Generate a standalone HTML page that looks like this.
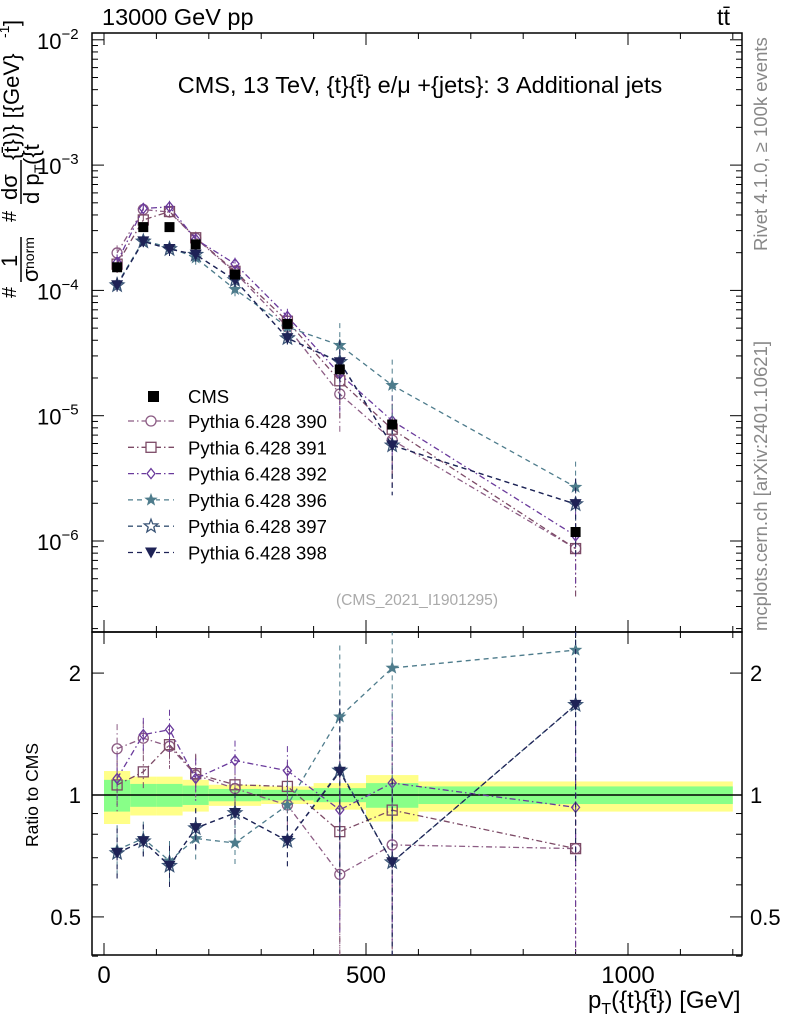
<!DOCTYPE html>
<html><head><meta charset="utf-8"><style>
body{margin:0;background:#fff;}
svg{font-family:"Liberation Sans",sans-serif;}
</style></head><body>
<svg id="c" width="786" height="1024" viewBox="0 0 786 1024" xmlns="http://www.w3.org/2000/svg"></svg>
<script>
const binCenters=[25,75,125,175,250,350,450,550,900];
const binEdges=[0,50,100,150,200,300,400,500,600,1200];
const cmsValues=[1.53e-4,3.2e-4,3.2e-4,2.33e-4,1.34e-4,5.4e-5,2.34e-5,8.5e-6,1.18e-6];
const bandYellowUp=[1.146,1.11,1.11,1.09,1.06,1.05,1.07,1.12,1.08];
const bandYellowDn=[0.848,0.89,0.89,0.91,0.94,0.95,0.92,0.86,0.91];
const bandGreenUp=[1.09,1.065,1.065,1.055,1.035,1.03,1.04,1.07,1.05];
const bandGreenDn=[0.91,0.935,0.935,0.945,0.965,0.97,0.96,0.93,0.95];
const s390=[1.99e-4,4.42e-4,4.22e-4,2.61e-4,1.39e-4,5.1e-5,1.49e-5,6.4e-6,8.7e-7];
const s391=[1.62e-4,3.65e-4,4.26e-4,2.63e-4,1.42e-4,5.67e-5,1.9e-5,7.8e-6,8.7e-7];
const s392=[1.68e-4,4.51e-4,4.64e-4,2.56e-4,1.63e-4,6.2e-5,2.15e-5,9.1e-6,1.1e-6];
const s396=[1.12e-4,2.5e-4,2.2e-4,1.82e-4,1.02e-4,5.1e-5,3.65e-5,1.75e-5,2.69e-6];
const s397=[1.10e-4,2.46e-4,2.14e-4,1.93e-4,1.21e-4,4.16e-5,2.69e-5,5.8e-6,1.97e-6];
const s398=[1.10e-4,2.46e-4,2.14e-4,1.93e-4,1.21e-4,4.16e-5,2.67e-5,5.8e-6,1.97e-6];
const relErr=[0.15,0.1,0.12,0.12,0.12,0.15,0.5,0.6,0.6];
const xTickLabels=["0","500","1000"];
const mainTickLabels=["10","10","10","10","10"];

const svg=document.getElementById('c');
const NS="http://www.w3.org/2000/svg";
const L=92,R=742,T=33,MB=632,RB=955;
const X=v=>104+v*0.524;
const YM=v=>541-(Math.log10(v)+6)*125.3;
const YR=v=>795-Math.log10(v)*405;
function el(tag,attrs,parent){const e=document.createElementNS(NS,tag);for(const k in attrs)e.setAttribute(k,attrs[k]);(parent||svg).appendChild(e);return e;}
function txt(s,x,y,size,attrs,parent){const t=el('text',Object.assign({x:x,y:y,'font-size':size},attrs||{}),parent);t.textContent=s;return t;}

// ratio bands
const bands=el('g',{});


for(let i=0;i<binCenters.length;i++){
  const x0=X(binEdges[i]),x1=X(binEdges[i+1]);
  el('rect',{x:x0,y:YR(bandYellowUp[i]),width:x1-x0,height:YR(bandYellowDn[i])-YR(bandYellowUp[i]),fill:'#ffff88'},bands);
  el('rect',{x:x0,y:YR(bandGreenUp[i]),width:x1-x0,height:YR(bandGreenDn[i])-YR(bandGreenUp[i]),fill:'#88ff88'},bands);
}
el('line',{x1:L,x2:R,y1:YR(1),y2:YR(1),stroke:'#000','stroke-width':1.5});

// frames
el('rect',{x:L,y:T,width:R-L,height:MB-T,fill:'none',stroke:'#000','stroke-width':1.5});
el('rect',{x:L,y:MB,width:R-L,height:RB-MB,fill:'none',stroke:'#000','stroke-width':1.5});

// main y ticks
for(let d=-7;d<=-2;d++){
  for(let m=1;m<10;m++){
    const v=m*Math.pow(10,d);const y=YM(v);
    if(y<T||y>MB)continue;
    const len=m===1?12:6;
    el('line',{x1:L,x2:L+len,y1:y,y2:y,stroke:'#000'});
    el('line',{x1:R,x2:R-len,y1:y,y2:y,stroke:'#000'});
  }
}
for(let d=-6,i=0;d<=-2;d++,i++){
  const y=YM(Math.pow(10,d));
  const t=txt(mainTickLabels[i],37,y+9,22,{});
  
  
  const s=el('tspan',{dy:-10,'font-size':15},t);s.textContent=String(d).replace('-','−');
}
// ratio y ticks
[0.4,0.5,0.6,0.7,0.8,0.9,1,2].forEach(v=>{
  const y=YR(v);const len=(v===0.5||v===1||v===2)?12:6;
  el('line',{x1:L,x2:L+len,y1:y,y2:y,stroke:'#000'});
  el('line',{x1:R,x2:R-len,y1:y,y2:y,stroke:'#000'});
});
[[0.5,"0.5"],[1,"1"],[2,"2"]].forEach(([v,s])=>{
  txt(s,81,YR(v)+8,22,{'text-anchor':'end'});
  txt(s,750,YR(v)+8,22,{});
});
// x ticks
for(let v=0;v<=1200;v+=100){
  const x=X(v);const len=v%500===0?12:6;
  [[MB,-1],[RB,-1],[T,1],[MB,1]].forEach(([y,dir])=>el('line',{x1:x,x2:x,y1:y,y2:y+dir*len,stroke:'#000'}));
}
xTickLabels.forEach((s,i)=>{const t=txt(s,X(i*500),983,24,{'text-anchor':'middle'});
  });

// series
const series=[
 {name:'390',vals:s390,color:'#8c5c84',dash:'6,3,1.5,3',mk:'circle'},
 {name:'391',vals:s391,color:'#7c4a66',dash:'6,3,1.5,3',mk:'square'},
 {name:'392',vals:s392,color:'#6a3a9c',dash:'6,3,1.5,3',mk:'diamond'},
 {name:'396',vals:s396,color:'#4e7c8c',dash:'5,4',mk:'starf'},
 {name:'397',vals:s397,color:'#3a5476',dash:'5,4',mk:'staro'},
 {name:'398',vals:s398,color:'#1e2256',dash:'5,4',mk:'tri'}
];
function starPts(cx,cy,r){let p=[];for(let k=0;k<10;k++){const a=-Math.PI/2+k*Math.PI/5;const rr=k%2?r*0.42:r;p.push((cx+rr*Math.cos(a)).toFixed(1)+','+(cy+rr*Math.sin(a)).toFixed(1));}return p.join(' ');}
function marker(g,type,x,y,c){
  if(type==='circle')el('circle',{cx:x,cy:y,r:5,fill:'#fff','fill-opacity':0,stroke:c,'stroke-width':1.3},g);
  else if(type==='square')el('rect',{x:x-5,y:y-5,width:10,height:10,fill:'none',stroke:c,'stroke-width':1.3},g);
  else if(type==='diamond')el('polygon',{points:`${x},${y-5} ${x+4},${y} ${x},${y+5} ${x-4},${y}`,fill:'none',stroke:c,'stroke-width':1.3},g);
  else if(type==='starf')el('polygon',{points:starPts(x,y,7),fill:c},g);
  else if(type==='staro')el('polygon',{points:starPts(x,y,7),fill:'none',stroke:c,'stroke-width':1.3},g);
  else if(type==='tri')el('polygon',{points:`${x-6},${y-5} ${x+6},${y-5} ${x},${y+6}`,fill:c},g);
}
const clipM=el('clipPath',{id:'cm'});el('rect',{x:L,y:T,width:R-L,height:MB-T},clipM);
const clipR=el('clipPath',{id:'cr'});el('rect',{x:L,y:MB,width:R-L,height:RB-MB},clipR);
series.forEach(s=>{
  const gm=el('g',{'clip-path':'url(#cm)'});
  
  
  const gr=el('g',{'clip-path':'url(#cr)'});
  
  
  const pm=[],pr=[];
  s.vals.forEach((v,i)=>{
    const x=X(binCenters[i]);const r=v/cmsValues[i];const e=relErr[i];
    pm.push(x+','+YM(v));pr.push(x+','+YR(r));
    el('line',{x1:x,x2:x,y1:YM(v*(1+e)),y2:YM(Math.max(v*(1-e),1e-9)),stroke:s.color,'stroke-dasharray':s.dash},gm);
    el('line',{x1:x,x2:x,y1:YR(r*(1+e)),y2:YR(Math.max(r*(1-e),0.01)),stroke:s.color,'stroke-dasharray':s.dash},gr);
  });
  el('polyline',{points:pm.join(' '),fill:'none',stroke:s.color,'stroke-width':1.3,'stroke-dasharray':s.dash},gm);
  el('polyline',{points:pr.join(' '),fill:'none',stroke:s.color,'stroke-width':1.3,'stroke-dasharray':s.dash},gr);
  s.vals.forEach((v,i)=>{const x=X(binCenters[i]);marker(gm,s.mk,x,YM(v),s.color);marker(gr,s.mk,x,YR(v/cmsValues[i]),s.color);});
});
const gc=el('g',{});


cmsValues.forEach((v,i)=>{el('rect',{x:X(binCenters[i])-5,y:YM(v)-5,width:10,height:10,fill:'#000'},gc);});

// legend
const lg=el('g',{});


el('rect',{x:148,y:391,width:11,height:11,fill:'#000'},lg);
txt('CMS',188,403,18.5,{},lg);
series.forEach((s,i)=>{
  const y=421+i*26.3;
  el('line',{x1:128,x2:174,y1:y,y2:y,stroke:s.color,'stroke-width':1.3,'stroke-dasharray':s.dash},lg);
  el('rect',{x:146,y:y-7,width:10,height:14,fill:'#fff'},lg);
  marker(lg,s.mk,151,y,s.color);
  txt('Pythia 6.428 '+s.name,188,y+7,18.5,{},lg);
});

// texts
txt('13000 GeV pp',102,25,23.5,{});
txt('tt̄',717,25,23.5,{});
txt('CMS, 13 TeV, {t}{t̄} e/μ +{jets}: 3 Additional jets',420,93,23.5,{'text-anchor':'middle',});
txt('(CMS_2021_I1901295)',417,605,15.6,{'text-anchor':'middle',fill:'#aaa',});
txt('Rivet 4.1.0, ≥ 100k events',0,0,18.5,{fill:'#888',transform:'translate(767,251) rotate(-90)',});
txt('mcplots.cern.ch [arXiv:2401.10621]',0,0,18.5,{fill:'#888',transform:'translate(767,631) rotate(-90)',});
txt('Ratio to CMS',0,0,17.5,{'text-anchor':'middle',transform:'translate(38,795) rotate(-90)',});

// y-axis title (rotated fraction construct); u = 300 - screenY, v = screenX
const ya=el('g',{transform:'translate(0,300) rotate(-90)'});


txt('#',2,16,20,{},ya);
txt('1',33,17,22,{},ya);
el('line',{x1:18,x2:63,y1:21,y2:21,stroke:'#000','stroke-width':1.5},ya);
txt('σ',18,38,22,{},ya);
txt('norm',31,34,14,{},ya);
txt('#',78,16,20,{},ya);
txt('dσ',100,17,22,{},ya);
el('line',{x1:96,x2:140,y1:21,y2:21,stroke:'#000','stroke-width':1.5},ya);
txt('d p',96,39,22,{},ya);
txt('T',127,44,14,{},ya);
txt('({t',135,39,22,{},ya);
txt('{t̄})} [{GeV}',140,19,22,{},ya);
txt('-1',262,9,14,{},ya);
txt(']',274,19,22,{},ya);

const xt=txt('p',588,1008,24,{});
const sub=el('tspan',{dy:6,'font-size':16},xt);sub.textContent='T';
const rest=el('tspan',{dy:-6},xt);rest.textContent='({t}{t̄}) [GeV]';
</script>
</body></html>
